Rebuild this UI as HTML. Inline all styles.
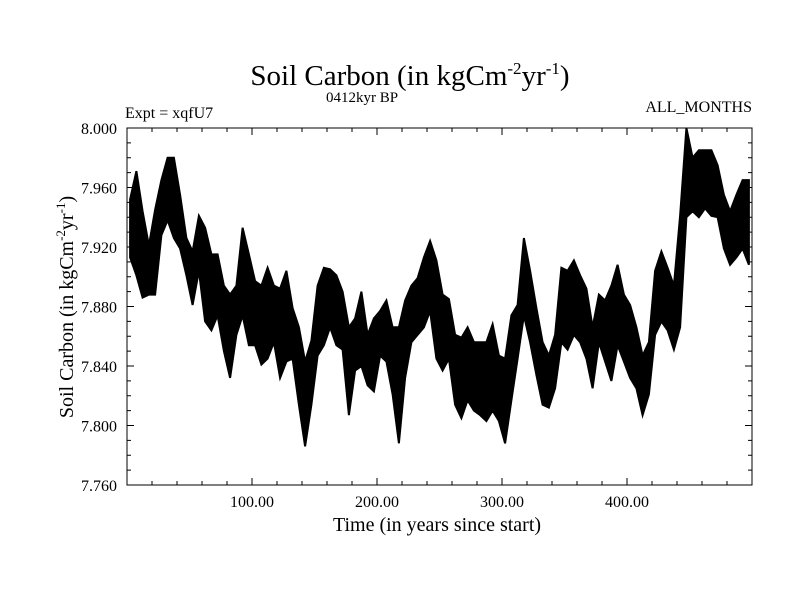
<!DOCTYPE html>
<html><head><meta charset="utf-8"><style>
body{margin:0;background:#fff;}
svg{display:block;font-family:"Liberation Serif",serif;}
</style></head><body>
<svg id="chart" width="800" height="600" viewBox="0 0 800 600">
<rect width="800" height="600" fill="#fff"/>
<text x="410" y="85" font-size="29" text-anchor="middle">Soil Carbon (in kgCm<tspan dy="-11" font-size="17">-2</tspan><tspan dy="11">yr</tspan><tspan dy="-11" font-size="17">-1</tspan><tspan dy="11">)</tspan></text>
<text x="362" y="102" font-size="15" text-anchor="middle">0412kyr BP</text>
<text x="125" y="118" font-size="16">Expt = xqfU7</text>
<text x="752" y="112" font-size="16" text-anchor="end">ALL_MONTHS</text>
<text x="437" y="531" font-size="20" text-anchor="middle">Time (in years since start)</text>
<text transform="translate(73,307) rotate(-90)" font-size="20" text-anchor="middle">Soil Carbon (in kgCm<tspan dy="-8" font-size="13">-2</tspan><tspan dy="8">yr</tspan><tspan dy="-8" font-size="13">-1</tspan><tspan dy="8">)</tspan></text>
<g id="series"></g>
<g id="axes"></g>
</svg>
<script>
const binYears=[0,5,10,15,20,25,30,35,40,45,50,55,60,65,70,75,80,85,90,95,100,105,110,115,120,125,130,135,140,145,150,155,160,165,170,175,180,185,190,195,200,205,210,215,220,225,230,235,240,245,250,255,260,265,270,275,280,285,290,295,300,305,310,315,320,325,330,335,340,345,350,355,360,365,370,375,380,385,390,395,400,405,410,415,420,425,430,435,440,445,450,455,460,465,470,475,480,485,490,495];
const highValues=[7.952,7.971,7.944,7.921,7.945,7.965,7.980,7.980,7.955,7.926,7.917,7.941,7.933,7.915,7.915,7.894,7.888,7.894,7.933,7.915,7.897,7.894,7.906,7.894,7.892,7.904,7.879,7.866,7.843,7.857,7.894,7.906,7.905,7.901,7.890,7.866,7.872,7.890,7.861,7.872,7.877,7.884,7.866,7.866,7.884,7.894,7.899,7.913,7.924,7.911,7.888,7.885,7.861,7.859,7.866,7.856,7.856,7.856,7.868,7.847,7.845,7.874,7.881,7.926,7.904,7.879,7.856,7.847,7.861,7.906,7.904,7.911,7.901,7.892,7.866,7.888,7.884,7.894,7.908,7.888,7.881,7.866,7.847,7.856,7.904,7.917,7.906,7.894,7.941,8.000,7.980,7.985,7.985,7.985,7.975,7.955,7.944,7.955,7.965,7.965];
const lowValues=[7.913,7.901,7.886,7.888,7.888,7.928,7.938,7.926,7.919,7.901,7.881,7.904,7.870,7.864,7.874,7.850,7.832,7.861,7.874,7.854,7.854,7.841,7.845,7.856,7.832,7.843,7.845,7.814,7.786,7.814,7.847,7.854,7.866,7.854,7.851,7.807,7.837,7.840,7.827,7.823,7.847,7.843,7.821,7.788,7.832,7.856,7.861,7.866,7.877,7.845,7.837,7.845,7.814,7.805,7.817,7.810,7.807,7.803,7.810,7.803,7.788,7.817,7.845,7.874,7.856,7.834,7.814,7.812,7.825,7.856,7.851,7.861,7.856,7.845,7.825,7.856,7.843,7.830,7.854,7.843,7.832,7.825,7.807,7.821,7.861,7.870,7.864,7.851,7.866,7.940,7.944,7.940,7.946,7.941,7.940,7.919,7.908,7.913,7.919,7.908];
const yTickValues=[7.760,7.800,7.840,7.880,7.920,7.960,8.000];
const yTickLabels=["7.760","7.800","7.840","7.880","7.920","7.960","8.000"];
const xTickValues=[100,200,300,400];
const xTickLabels=["100.00","200.00","300.00","400.00"];

const L=127,R=752,T=128,B=485,X0=0,X1=500,Y0=7.76,Y1=8.0;
const sx=v=>L+(v-X0)/(X1-X0)*(R-L);
const sy=v=>B-(v-Y0)/(Y1-Y0)*(B-T);
const NS="http://www.w3.org/2000/svg";
const series=document.getElementById('series');
const axes=document.getElementById('axes');

let pts=[];
for(let i=0;i<binYears.length;i++){pts.push(sx(binYears[i]+2.5).toFixed(1)+","+sy(highValues[i]).toFixed(1));}
for(let i=binYears.length-1;i>=0;i--){pts.push(sx(binYears[i]+2.5).toFixed(1)+","+sy(lowValues[i]).toFixed(1));}
const poly=document.createElementNS(NS,'polygon');
poly.setAttribute('points',pts.join(' '));
poly.setAttribute('fill','#000');
poly.setAttribute('stroke','#000');
poly.setAttribute('stroke-width','2');
poly.setAttribute('stroke-linejoin','miter');


series.appendChild(poly);

function line(x1,y1,x2,y2,name){
  const l=document.createElementNS(NS,'line');
  l.setAttribute('x1',x1);l.setAttribute('y1',y1);l.setAttribute('x2',x2);l.setAttribute('y2',y2);
  l.setAttribute('stroke','#000');l.setAttribute('stroke-width','1');
  
  
  axes.appendChild(l);
}
const frame=document.createElementNS(NS,'rect');
frame.setAttribute('x',L);frame.setAttribute('y',T);frame.setAttribute('width',R-L);frame.setAttribute('height',B-T);
frame.setAttribute('fill','none');frame.setAttribute('stroke','#000');frame.setAttribute('stroke-width','1');


axes.appendChild(frame);

for(let v=Y0;v<=Y1+1e-9;v+=0.01){
  const major=Math.abs(Math.round(v*100)%4)===0;
  const len=major?7:4;const y=sy(v);
  line(L,y,L+len,y,'y-tick');
  line(R,y,R-len,y,'y-tick-right');
}
for(let v=20;v<X1;v+=20){
  const major=v%100===0;const len=major?7:4;const x=sx(v);
  line(x,B,x,B-len,'x-tick');
  line(x,T,x,T+len,'x-tick-top');
}
yTickValues.forEach((v,i)=>{
  const t=document.createElementNS(NS,'text');
  t.setAttribute('x',117);t.setAttribute('y',sy(v)+6);
  t.setAttribute('font-size','16');t.setAttribute('text-anchor','end');
  t.textContent=yTickLabels[i];
  
  
  axes.appendChild(t);
});
xTickValues.forEach((v,i)=>{
  const t=document.createElementNS(NS,'text');
  t.setAttribute('x',sx(v));t.setAttribute('y',507);
  t.setAttribute('font-size','16');t.setAttribute('text-anchor','middle');
  t.textContent=xTickLabels[i];
  
  
  axes.appendChild(t);
});
</script>
</body></html>
